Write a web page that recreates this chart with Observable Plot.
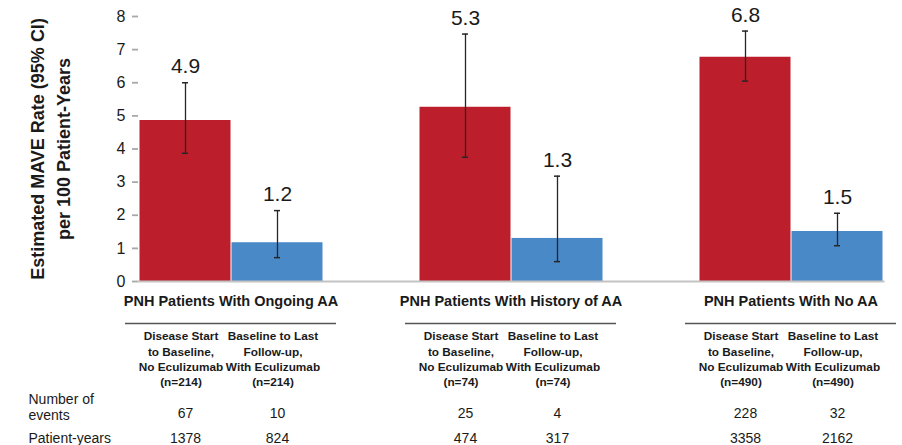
<!DOCTYPE html>
<html><head><meta charset="utf-8">
<script src="https://cdn.jsdelivr.net/npm/d3@7"></script>
<script src="https://cdn.jsdelivr.net/npm/@observablehq/plot@0.6"></script>
<style>
body{margin:0;background:#fff;}
#chart svg{font-family:"Liberation Sans", Arial, sans-serif;}
</style></head><body><div id="chart"></div>
<script>
const groups = ["PNH Patients With Ongoing AA", "PNH Patients With History of AA", "PNH Patients With No AA"];
const seriesKeys = ["No Eculizumab", "With Eculizumab"];
const periodHeaders = ["Disease Start\nto Baseline,\nNo Eculizumab", "Baseline to Last\nFollow-up,\nWith Eculizumab"];
const nPatients = [214, 74, 490];
const rateNoEcu = [4.86, 5.26, 6.77];
const rateEcu = [1.17, 1.30, 1.51];
const ciLowNoEcu = [3.87, 3.75, 6.05];
const ciHighNoEcu = [6.00, 7.47, 7.56];
const ciLowEcu = [0.72, 0.60, 1.08];
const ciHighEcu = [2.14, 3.18, 2.06];
const labelNoEcu = ["4.9", "5.3", "6.8"];
const labelEcu = ["1.2", "1.3", "1.5"];
const eventsNoEcu = [67, 25, 228];
const eventsEcu = [10, 4, 32];
const pyNoEcu = [1378, 474, 3358];
const pyEcu = [824, 317, 2162];
const yTicks = [0, 1, 2, 3, 4, 5, 6, 7, 8];
const rowLabels = ["Number of\nevents", "Patient-years"];
const yTitle = "Estimated MAVE Rate (95% CI)\nper 100 Patient-Years";

const rows = [];
groups.forEach((g, i) => {
  rows.push({group: g, series: seriesKeys[0], rate: rateNoEcu[i], lo: ciLowNoEcu[i], hi: ciHighNoEcu[i],
    label: labelNoEcu[i], events: String(eventsNoEcu[i]), py: String(pyNoEcu[i]), header: `${periodHeaders[0]}\n(n=${nPatients[i]})`});
  rows.push({group: g, series: seriesKeys[1], rate: rateEcu[i], lo: ciLowEcu[i], hi: ciHighEcu[i],
    label: labelEcu[i], events: String(eventsEcu[i]), py: String(pyEcu[i]), header: `${periodHeaders[1]}\n(n=${nPatients[i]})`});
});

const chart = Plot.plot({
  width: 902, height: 445,
  marginTop: 16, marginLeft: 137, marginRight: 17, marginBottom: 164,
  style: {fontFamily: "Liberation Sans, Arial, sans-serif", background: "white", color: "#1a1a1a"},
  fx: {domain: groups, paddingInner: 0.338, paddingOuter: 0, label: null},
  x: {domain: seriesKeys, padding: 0, axis: null},
  y: {domain: [0, 8], axis: null},
  color: {domain: seriesKeys, range: ["#bc1f2b", "#4a89c8"]},
  marks: [
    Plot.barY(rows, {fx: "group", x: "series", y: "rate", fill: "series", insetLeft: 0.5, insetRight: 0.5}),
    Plot.ruleX(rows, {fx: "group", x: "series", y1: "lo", y2: "hi", stroke: "#262626", strokeWidth: 1.3}),
    Plot.tickY(rows, {fx: "group", x: "series", y: "hi", insetLeft: 43, insetRight: 43, stroke: "#262626", strokeWidth: 1.5}),
    Plot.tickY(rows, {fx: "group", x: "series", y: "lo", insetLeft: 43, insetRight: 43, stroke: "#262626", strokeWidth: 1.5}),
    Plot.text(rows, {fx: "group", x: "series", y: "hi", text: "label", dy: -16, fontSize: 21, fill: "#1a1a1a"}),
    Plot.axisY({ticks: yTicks, tickSize: 6, tickPadding: 7, fontSize: 16, line: true, stroke: "#a8a8a8", strokeWidth: 1.8, fill: "#1a1a1a", label: null}),
    Plot.frame({facet: "super", anchor: "bottom", stroke: "#c4c4c4", strokeWidth: 2}),
    Plot.axisFx({anchor: "bottom", tickSize: 0, tickPadding: 14, fontSize: 14.5, fontWeight: "bold", fill: "#1a1a1a", label: null}),
    Plot.ruleY([0], {dy: 42, insetLeft: -13, insetRight: -13, stroke: "#555", strokeWidth: 1.3}),
    Plot.text(rows, {fx: "group", x: "series", text: "header", frameAnchor: "bottom", dy: 48, dx: -4.5, lineAnchor: "top", lineHeight: 1.3, fontSize: 11.8, fontWeight: "bold", fill: "#1a1a1a"}),
    Plot.text(rows, {fx: "group", x: "series", text: "events", frameAnchor: "bottom", dy: 127, lineAnchor: "top", fontSize: 14, fill: "#1a1a1a"}),
    Plot.text(rows, {fx: "group", x: "series", text: "py", frameAnchor: "bottom", dy: 152, lineAnchor: "top", fontSize: 14, fill: "#1a1a1a"}),
    Plot.text([rowLabels[0]], {facet: "super", frameAnchor: "bottom-left", dx: -110, dy: 111, textAnchor: "start", lineAnchor: "top", lineHeight: 1.14, fontSize: 14, fill: "#1a1a1a"}),
    Plot.text([rowLabels[1]], {facet: "super", frameAnchor: "bottom-left", dx: -110, dy: 152, textAnchor: "start", lineAnchor: "top", fontSize: 14, fill: "#1a1a1a"}),
    Plot.text([yTitle], {facet: "super", frameAnchor: "left", dx: -90, rotate: -90, textAnchor: "middle", lineAnchor: "middle", lineHeight: 1.45, fontSize: 18, fontWeight: "bold", fill: "#1a1a1a"})
  ]
});
document.getElementById("chart").appendChild(chart);
</script>
</body></html>
